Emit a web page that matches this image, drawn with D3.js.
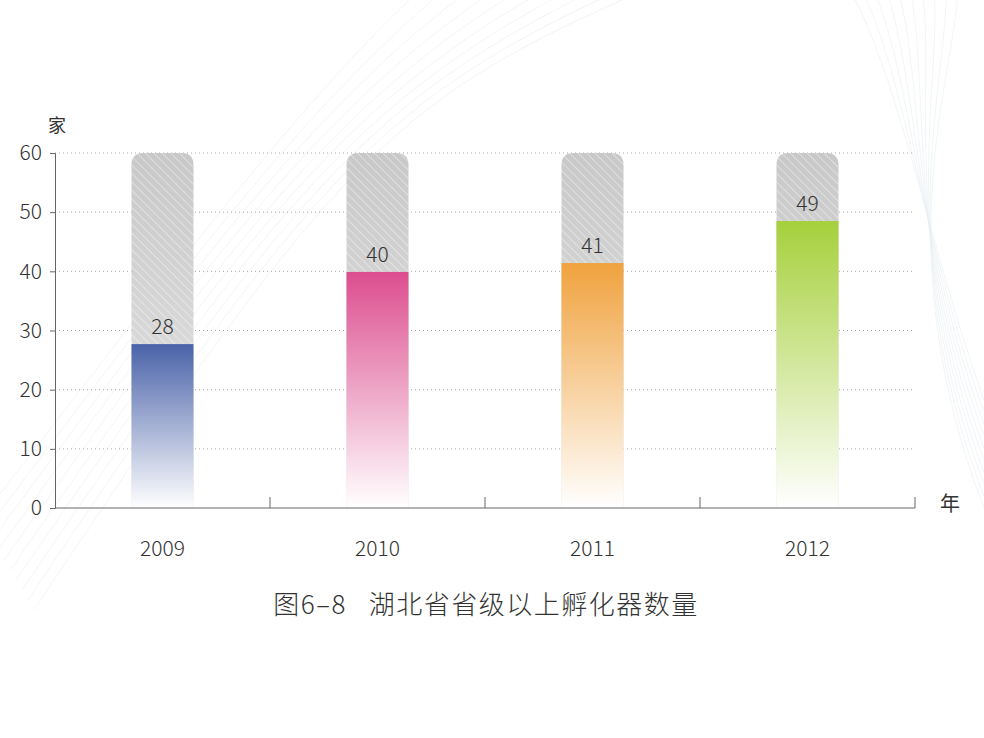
<!DOCTYPE html>
<html><head><meta charset="utf-8">
<script src="https://cdn.jsdelivr.net/npm/d3@7"></script>
<style>body{margin:0;background:#fff}text{font-family:"Noto Sans CJK SC","Noto Sans",sans-serif}</style>
</head><body>
<svg id="chart" width="984" height="738"></svg>
<script>
const years = ["2009", "2010", "2011", "2012"];
const values = [27.7, 39.9, 41.4, 48.5];
const labels = ["28", "40", "41", "49"];
const colors = ["#4a63a9", "#dc4e8f", "#f0a23e", "#a6d03c"];
const yTicks = [0, 10, 20, 30, 40, 50, 60];

const svg = d3.select("#chart");
const x = d3.scaleBand().domain(years).range([55, 915]);
const y = d3.scaleLinear().domain([0, 60]).range([508, 153]);
const bw = 62;
const defs = svg.append("defs");

// faint background curves
const bg = svg.append("g").attr("fill", "none").attr("stroke", "#e8eff2").attr("stroke-width", 0.6);
for (let i = 0; i < 10; i++) {
  bg.append("path").attr("d", `M${-20 + i * 6},${520 + i * 10} C${150 + i * 20},${300 - i * 15} ${300 + i * 10},${100} ${420 + i * 25},${-10}`);
  bg.append("path").attr("d", `M${984},${400 + i * 12} C${930 - i * 5},${250} ${900 + i * 6},${80} ${850 + i * 12},${-10}`);
}

// hatch + gray gradient
const gg = defs.append("linearGradient").attr("id", "gray").attr("x1", 0).attr("y1", 0).attr("x2", 0).attr("y2", 1);
gg.append("stop").attr("offset", 0).attr("stop-color", "#c8c8c8");
gg.append("stop").attr("offset", 1).attr("stop-color", "#e6e6e6");
const pat = defs.append("pattern").attr("id", "hatch").attr("patternUnits", "userSpaceOnUse")
  .attr("width", 6).attr("height", 6).attr("patternTransform", "rotate(-45)");
pat.append("line").attr("x1", 0).attr("y1", 0).attr("x2", 0).attr("y2", 6).attr("stroke", "#fff").attr("stroke-width", 1).attr("opacity", 0.8);

colors.forEach((c, i) => {
  const g = defs.append("linearGradient").attr("id", "g" + i).attr("x1", 0).attr("y1", 0).attr("x2", 0).attr("y2", 1);
  g.append("stop").attr("offset", 0).attr("stop-color", c);
  g.append("stop").attr("offset", 1).attr("stop-color", "#fff");
});

// grid
svg.append("g").selectAll("line").data(yTicks.slice(1)).join("line")
  .attr("x1", 55).attr("x2", 915).attr("y1", d => y(d)).attr("y2", d => y(d))
  .attr("stroke", "#aaa").attr("stroke-dasharray", "1,3");

// background bars + value bars
years.forEach((yr, i) => {
  const bx = x(yr) + x.bandwidth() / 2 - bw / 2;
  const path = `M${bx},${y(0)} V${y(60) + 12} Q${bx},${y(60)} ${bx + 12},${y(60)} H${bx + bw - 12} Q${bx + bw},${y(60)} ${bx + bw},${y(60) + 12} V${y(0)} Z`;
  svg.append("path").attr("d", path).attr("fill", "url(#gray)");
  svg.append("path").attr("d", path).attr("fill", "url(#hatch)");
  svg.append("rect").attr("x", bx).attr("width", bw).attr("y", y(values[i])).attr("height", y(0) - y(values[i]))
    .attr("fill", `url(#g${i})`);
  svg.append("text").attr("x", bx + bw / 2).attr("y", y(values[i]) - 10).attr("text-anchor", "middle")
    .attr("font-size", 21).attr("font-weight", 300).attr("fill", "#333").text(labels[i]);
});

// axes
const yAxis = svg.append("g").attr("transform", "translate(55,0)")
  .call(d3.axisLeft(y).tickValues(yTicks).tickSize(5).tickPadding(8));
yAxis.select(".domain").attr("stroke", "#666");
yAxis.selectAll("line").attr("stroke", "#666");
yAxis.selectAll("text").attr("font-size", 21).attr("font-weight", 300).attr("fill", "#333");

svg.append("line").attr("x1", 55).attr("x2", 915).attr("y1", 508).attr("y2", 508).attr("stroke", "#666");
svg.append("g").selectAll("line").data(years).join("line")
  .attr("x1", d => x(d) + x.bandwidth()).attr("x2", d => x(d) + x.bandwidth())
  .attr("y1", 497).attr("y2", 508).attr("stroke", "#666");
svg.append("g").selectAll("text").data(years).join("text")
  .attr("x", d => x(d) + x.bandwidth() / 2).attr("y", 556).attr("text-anchor", "middle")
  .attr("font-size", 21).attr("font-weight", 300).attr("fill", "#333").text(d => d);

svg.append("text").attr("x", 57).attr("y", 132).attr("text-anchor", "middle").attr("font-size", 18).attr("fill", "#333").text("家");
svg.append("text").attr("x", 950).attr("y", 511).attr("text-anchor", "middle").attr("font-size", 20).attr("fill", "#333").text("年");
svg.append("text").attr("x", 486).attr("y", 614).attr("text-anchor", "middle").attr("font-size", 26).attr("font-weight", 300)
  .attr("letter-spacing", 1.5).attr("fill", "#333")
  .attr("xml:space", "preserve").text("图6–8   湖北省省级以上孵化器数量");
</script>
</body></html>
